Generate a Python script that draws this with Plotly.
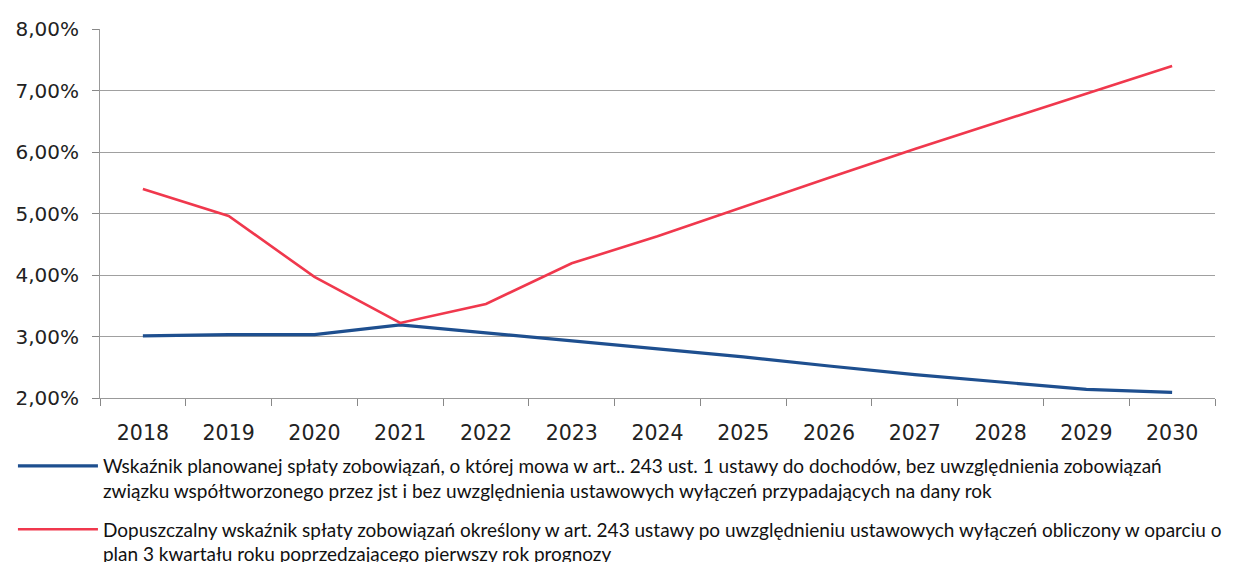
import plotly.graph_objects as go

years = ["2018", "2019", "2020", "2021", "2022", "2023", "2024",
         "2025", "2026", "2027", "2028", "2029", "2030"]
planned = [3.01, 3.03, 3.03, 3.19, 3.06, 2.93, 2.80, 2.67, 2.52, 2.38, 2.26, 2.14, 2.09]
allowed = [5.40, 4.96, 3.97, 3.22, 3.53, 4.19, 4.63, 5.11, 5.58, 6.05, 6.50, 6.96, 7.40]
y_ticks = [2, 3, 4, 5, 6, 7, 8]
y_labels = ["2,00%", "3,00%", "4,00%", "5,00%", "6,00%", "7,00%", "8,00%"]

name_planned = ("Wskaźnik planowanej spłaty zobowiązań, o której mowa w art.. 243 ust. 1 ustawy do dochodów, bez uwzględnienia zobowiązań<br>"
                "związku współtworzonego przez jst i bez uwzględnienia ustawowych wyłączeń przypadających na dany rok")
name_allowed = ("Dopuszczalny wskaźnik spłaty zobowiązań określony w art. 243 ustawy po uwzględnieniu ustawowych wyłączeń obliczony w oparciu o<br>"
                "plan 3 kwartału roku poprzedzającego pierwszy rok prognozy")

fig = go.Figure()
fig.add_trace(go.Scatter(x=years, y=planned, mode="lines", name=name_planned,
                         legendgroup="a",
                         line=dict(color="#1e4f8f", width=3.2)))
fig.add_trace(go.Scatter(x=years, y=allowed, mode="lines", name=name_allowed,
                         legendgroup="b",
                         line=dict(color="#f0384d", width=2.6)))

fig.update_layout(
    width=1235, height=554,
    margin=dict(l=92, r=28, t=21, b=164, autoexpand=False),
    paper_bgcolor="white", plot_bgcolor="white",
    font=dict(family="DejaVu Sans", color="#222222"),
    xaxis=dict(type="category", tickson="boundaries", ticks="outside", ticklen=7,
               tickcolor="#888888", showline=True, linecolor="#999999", linewidth=1,
               showgrid=False, tickfont=dict(size=20.5, family="DejaVu Sans", color="#222222"),
               ticklabelstandoff=16, range=[-0.5, 12.5], automargin=False),
    yaxis=dict(range=[2, 8], tickvals=y_ticks, ticktext=y_labels, ticks="outside",
               ticklen=7, tickcolor="#888888", showline=True, linecolor="#999999",
               showgrid=True, gridcolor="#a0a0a0", gridwidth=1, zeroline=False,
               ticklabelstandoff=9, automargin=False,
               tickfont=dict(size=20, family="DejaVu Sans", color="#222222")),
    showlegend=True,
    legend=dict(orientation="v", xref="container", yref="container",
                x=0.004, xanchor="left", y=0.2076, yanchor="top",
                font=dict(family="Lato", size=19, color="#111111"),
                itemwidth=80, valign="top", tracegroupgap=11,
                bgcolor="rgba(0,0,0,0)"),
)

fig.write_html("out.html")
